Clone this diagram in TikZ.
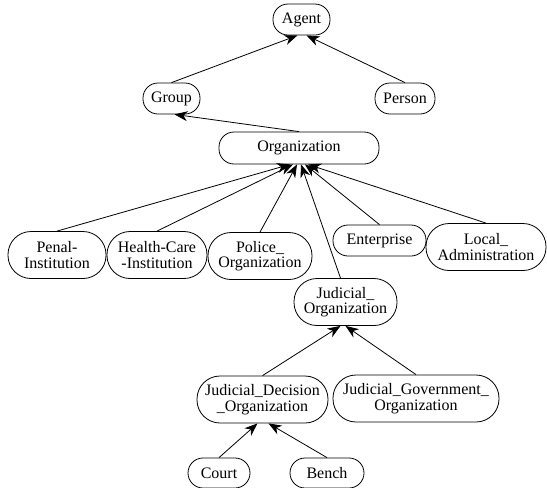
\documentclass[tikz,border=0pt]{standalone}
\usepackage{fontspec}
\setmainfont{Liberation Serif}
\usetikzlibrary{arrows.meta}

\begin{document}
\begin{tikzpicture}[x=1pt,y=-1pt,line width=0.8pt,
    concept/.style ={draw, rounded corners=15pt, inner sep=0pt, minimum height=31pt,
                     align=center, font=\fontsize{16}{15.5}\selectfont},
    twoline/.style ={concept, rounded corners=23pt, minimum height=47pt},
    isa/.style ={-{Stealth[length=13pt,width=10pt,inset=4pt]}}]
   \useasboundingbox (0,0) rectangle (547,488);
   \node[concept, minimum width=57pt] (ag)  at (301.5,19.5) {Agent};
   \node[concept, minimum width=57pt] (grp) at (171.5,98.5) {Group};
   \node[concept, minimum width=60pt] (per) at (405,98.5)   {Person};
   \node[concept, minimum width=160pt, minimum height=32pt] (org) at (299,148) {Organization};

   \node[twoline, minimum width=98pt]  (pen) at (57,255)    {Penal-\\Institution};
   \node[twoline, minimum width=100pt] (hc)  at (157,255)   {Health-Care\\-Institution};
   \node[twoline, minimum width=104pt] (pol) at (260,256)   {Police\_\\Organization};
   \node[concept, minimum width=93pt]  (ent) at (379.5,240.5) {Enterprise};
   \node[twoline, minimum width=120pt] (loc) at (486,247)   {Local\_\\Administration};
   \node[twoline, minimum width=103pt] (jo)  at (345.5,302) {Judicial\_\\Organization};

   \node[twoline, minimum width=131pt] (jdo) at (262.5,399.5) {Judicial\_Decision\\\_Organization};
   \node[twoline, minimum width=166pt] (jgo) at (416,398.5)   {Judicial\_Government\_\\Organization};
   \node[concept, minimum width=62pt, minimum height=30pt] (crt) at (219,473) {Court};
   \node[concept, minimum width=74pt, minimum height=30pt] (ben) at (327,473) {Bench};

   \draw[isa] (grp.north) to ([xshift=-4pt]ag.south);
   \draw[isa] (per.north) to ([xshift=5pt]ag.south);
   \draw[isa] (org.north) to ([xshift=3pt]grp.south);

   \draw[isa] (pen.north) to ([xshift=-9pt]org.south);
   \draw[isa] (hc.north)  to ([xshift=-6pt]org.south);
   \draw[isa] (pol.north) to ([xshift=-2pt]org.south);
   \draw[isa] ([xshift=-5pt]jo.north) to ([xshift=2pt]org.south);
   \draw[isa] (ent.north) to ([xshift=6pt]org.south);
   \draw[isa] (loc.north) to ([xshift=9pt]org.south);

   \draw[isa] (jdo.north) to ([xshift=-5pt]jo.south);
   \draw[isa] (jgo.north) to ([xshift=0pt]jo.south);
   \draw[isa] (crt.north) to ([xshift=-5pt]jdo.south);
   \draw[isa] (ben.north) to ([xshift=6pt]jdo.south);
\end{tikzpicture}
\end{document}
